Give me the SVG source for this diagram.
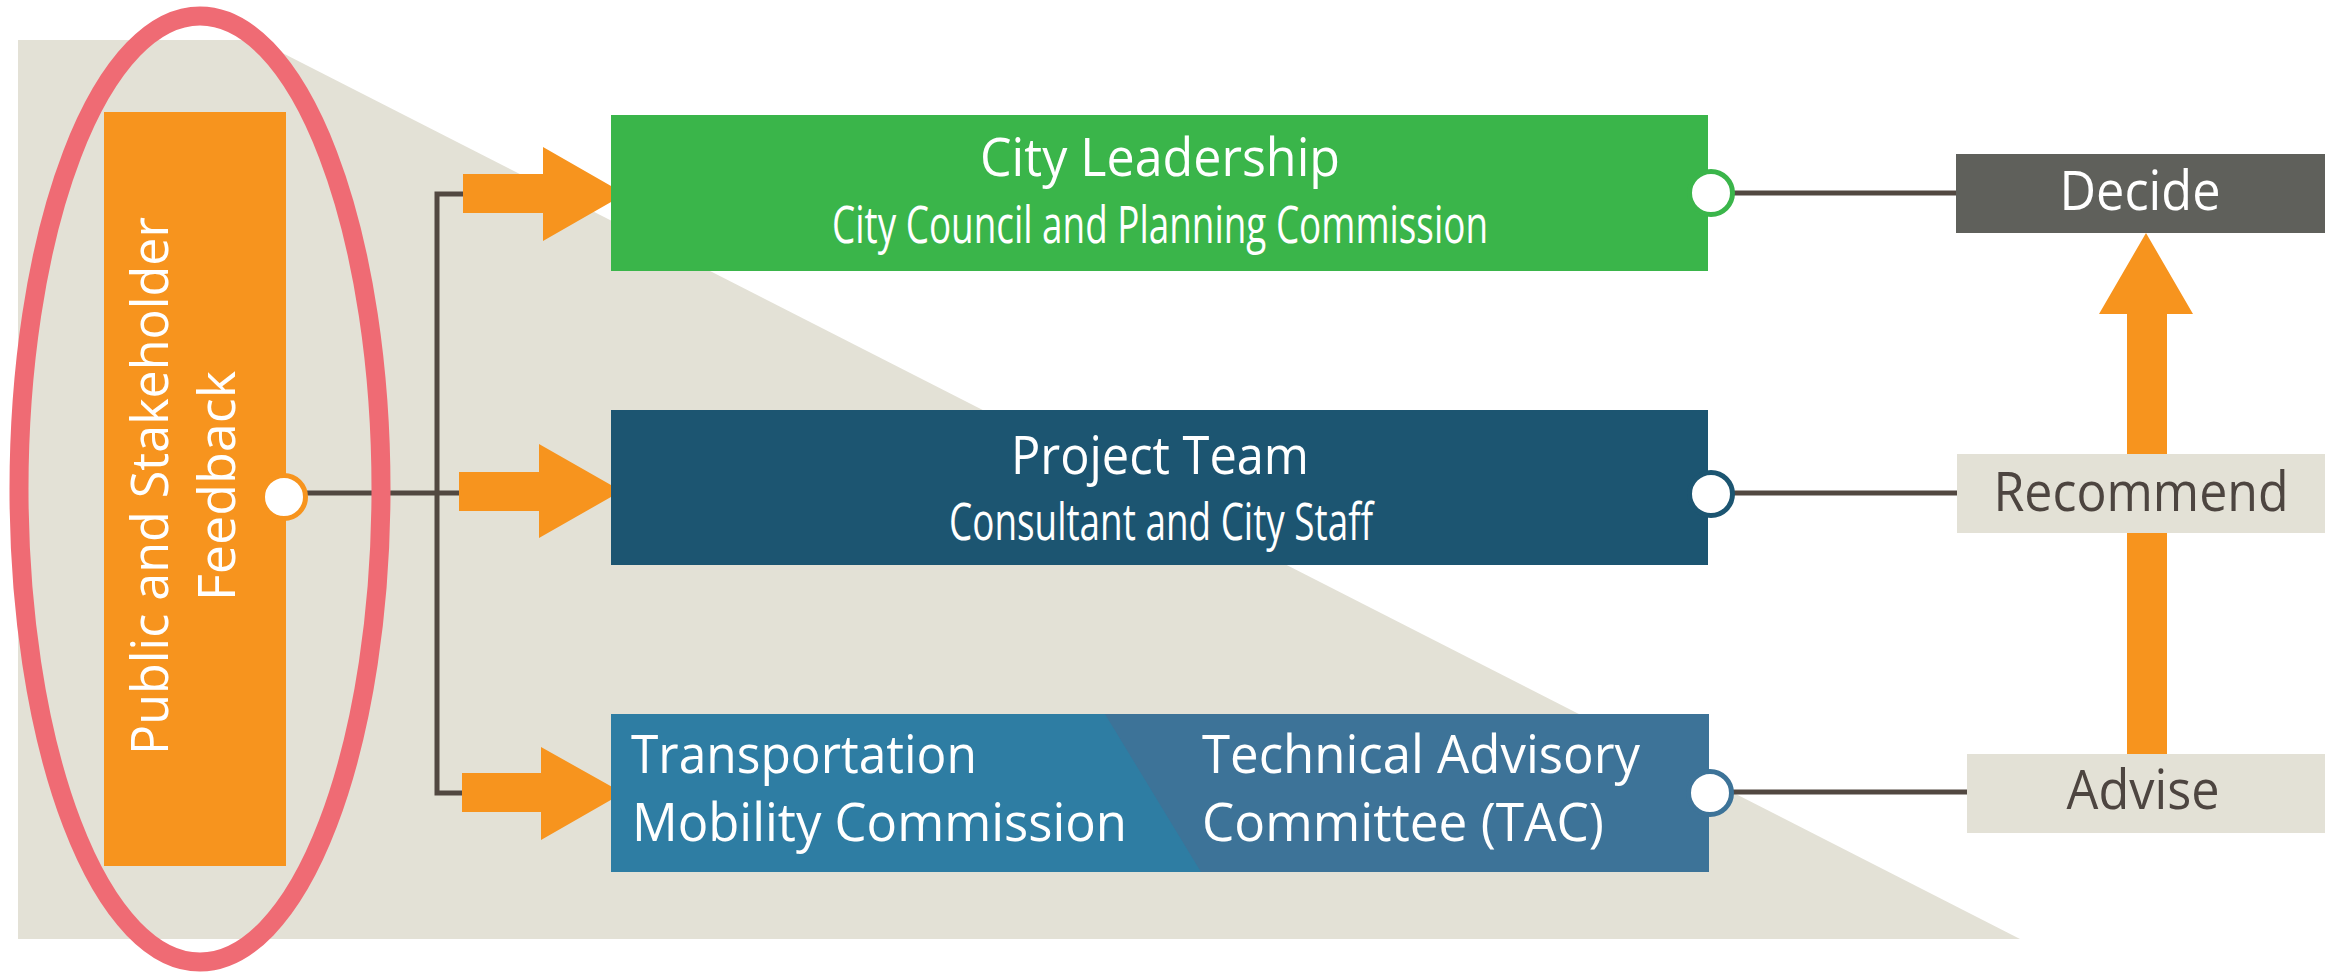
<svg xmlns="http://www.w3.org/2000/svg" width="2334" height="974" viewBox="0 0 2334 974">
<defs>
<style>
.t{font-family:"Open Sans","Noto Sans","Liberation Sans",sans-serif;fill:#fff;}
.title{font-size:53px;}
.sub{font-size:51px;}
.lbl{font-family:"Open Sans","Noto Sans","Liberation Sans",sans-serif;font-size:54px;fill:#4D4540;}
.conn{fill:none;stroke:#524841;stroke-width:5;}
.arr{fill:#F7941E;}
.dot{fill:#fff;stroke-width:5;}
</style>
</defs>
<rect width="2334" height="974" fill="#fff"/>
<polygon id="background" points="18,40 257,40 2020,939 18,939" fill="#E3E1D6"/>

<g id="connectors">
<polyline class="conn" points="463,194 437,194 437,793 462,793"/>
<line class="conn" x1="300" y1="493" x2="461" y2="493"/>
<line class="conn" x1="1733" y1="193" x2="1958" y2="193"/>
<line class="conn" x1="1733" y1="493" x2="1958" y2="493"/>
<line class="conn" x1="1732" y1="792" x2="1968" y2="792"/>
<polygon class="arr" points="463,174 543,174 543,147 625,194 543,241 543,213 463,213"/>
<polygon class="arr" points="459,472 539,472 539,444 621.5,491 539,538 539,511 459,511"/>
<polygon class="arr" points="462,773 541,773 541,747 623,793 541,840 541,812 462,812"/>
<polygon class="arr" points="2127,754 2127,314 2099,314 2146,233 2193,314 2167,314 2167,754"/>
</g>

<g id="feedback">
<rect x="104" y="112" width="182" height="754" fill="#F7941E"/>
<text class="t" font-size="52" text-anchor="middle" textLength="538" lengthAdjust="spacingAndGlyphs" transform="translate(167.5,486) rotate(-90)">Public and Stakeholder</text>
<text class="t" font-size="52" text-anchor="middle" transform="translate(235,486) rotate(-90)">Feedback</text>
<circle class="dot" cx="284" cy="497" r="21.5" stroke="#F7941E" stroke-width="4.5"/>
</g>

<g id="city-leadership">
<rect x="611" y="115" width="1097" height="156" fill="#3AB54A"/>
<text class="t title" x="1160" y="176" text-anchor="middle" textLength="360" lengthAdjust="spacingAndGlyphs">City Leadership</text>
<text class="t sub" x="1160" y="243" text-anchor="middle" textLength="656" lengthAdjust="spacingAndGlyphs">City Council and Planning Commission</text>
<circle class="dot" cx="1711" cy="193" r="21.5" stroke="#3AB54A"/>
</g>

<g id="project-team">
<rect x="611" y="410" width="1097" height="155" fill="#1C5571"/>
<text class="t title" x="1160" y="474" text-anchor="middle" textLength="298" lengthAdjust="spacingAndGlyphs">Project Team</text>
<text class="t sub" x="1161" y="540" text-anchor="middle" textLength="424" lengthAdjust="spacingAndGlyphs">Consultant and City Staff</text>
<circle class="dot" cx="1711" cy="494" r="21.5" stroke="#1C5571"/>
</g>

<g id="advisory">
<rect x="611" y="714" width="1098" height="158" fill="#3D7398"/>
<polygon points="611,714 1105,714 1201,872 611,872" fill="#2E7DA3"/>
<text class="t title" x="631" y="773" textLength="346" lengthAdjust="spacingAndGlyphs">Transportation</text>
<text class="t title" x="632" y="841" textLength="495" lengthAdjust="spacingAndGlyphs">Mobility Commission</text>
<text class="t title" x="1202" y="773" textLength="438" lengthAdjust="spacingAndGlyphs">Technical Advisory</text>
<text class="t title" x="1202" y="841" textLength="402" lengthAdjust="spacingAndGlyphs">Committee (TAC)</text>
<circle class="dot" cx="1710" cy="793" r="21.5" stroke="#3D7398"/>
</g>

<g id="decide">
<rect x="1956" y="154" width="369" height="79" fill="#5F605B"/>
<text class="t" font-size="54" x="2140" y="210" text-anchor="middle" textLength="161" lengthAdjust="spacingAndGlyphs">Decide</text>
</g>

<g id="recommend">
<rect x="1957" y="454" width="368" height="79" fill="#E3E1D6"/>
<text class="lbl" x="2141" y="511" text-anchor="middle" textLength="295" lengthAdjust="spacingAndGlyphs">Recommend</text>
</g>

<g id="advise">
<rect x="1967" y="754" width="358" height="79" fill="#E3E1D6"/>
<text class="lbl" x="2143" y="809" text-anchor="middle" textLength="153" lengthAdjust="spacingAndGlyphs">Advise</text>
</g>

<ellipse id="highlight" cx="200" cy="489" rx="181" ry="473" fill="none" stroke="#EF6B74" stroke-width="19"/>
</svg>
